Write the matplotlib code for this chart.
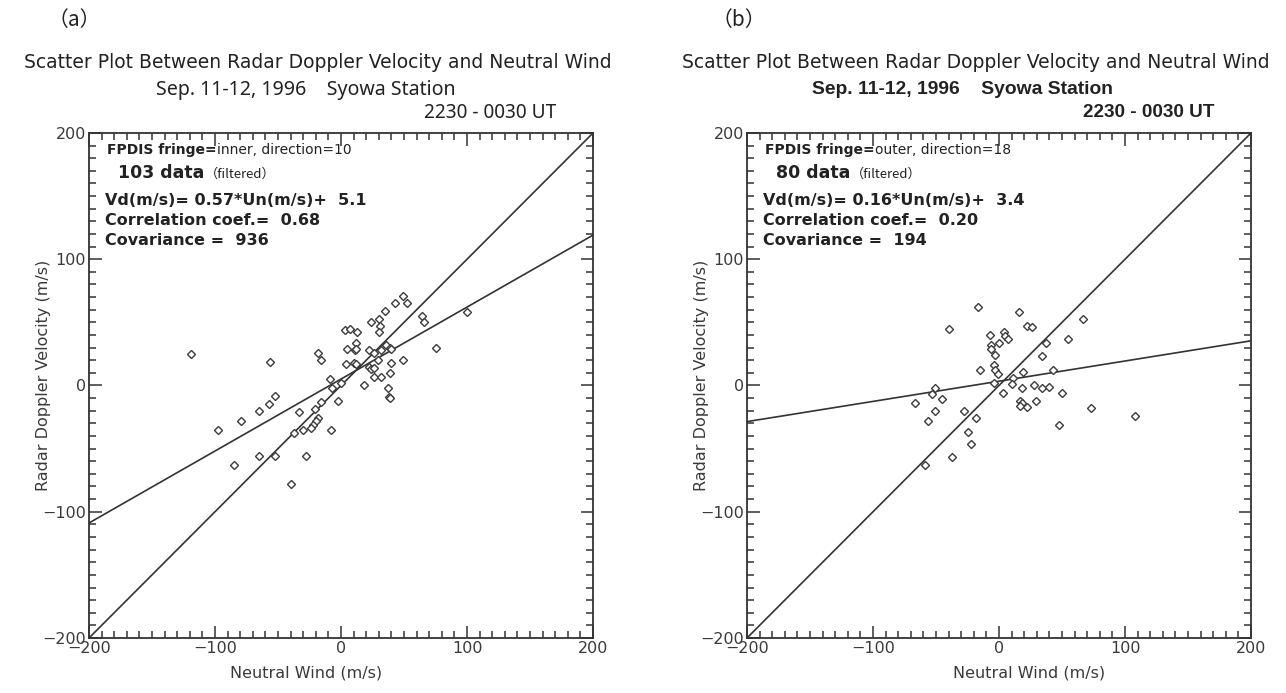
import numpy as np
import matplotlib.pyplot as plt
from matplotlib.ticker import MultipleLocator

# panel (a): inner fringe, direction=10
a_un = [-119, -56, -52, -57, -65, -79, -98, -33, -30, -37, -65, -52, -85, -28, -40,
        49, 43, 52, 35, 30, 24, 31, 30, 3, 7, 13, 12, 11, 12, 5, 22, 26, 32, 36, 39,
        40, 29, 40, 49, 4, 10, 12, 22, 24, 26, 26, 32, 39, 18, 37, 38, 39, -9, 0, -7,
        -16, -2, -21, -18, -20, -22, -24, -8, -18, -16, 64, 66, 75, 100]
a_vd = [25, 19, -8, -15, -20, -28, -35, -21, -35, -38, -56, -56, -63, -56, -78,
        71, 65, 65, 59, 53, 50, 47, 42, 44, 45, 42, 34, 28, 29, 29, 28, 26, 28, 32, 30,
        29, 20, 18, 20, 17, 18, 17, 15, 13, 14, 7, 7, 10, 0, -2, -9, -10, 5, 2, -2,
        -13, -12, -19, -26, -28, -31, -34, -35, 26, 20, 55, 50, 30, 58]
a_slope, a_icpt = 0.57, 5.1

# panel (b): outer fringe, direction=18
b_un = [-40, -51, -53, -45, -67, -51, -56, -59, -17, 16, 22, 26, 67, -7, 4, 5, 7, 0,
        -6, -6, -3, 37, 55, 34, -15, -4, -3, -1, 19, 43, -4, 11, 10, 18, 28, 34, 40,
        50, 3, 29, 17, 18, 17, 22, 73, -28, -18, -25, -22, 48, -37, 108]
b_vd = [45, -2, -7, -11, -14, -20, -28, -63, 62, 58, 47, 46, 53, 40, 42, 39, 37, 34,
        32, 29, 24, 34, 37, 23, 12, 16, 12, 9, 11, 12, 2, 6, 1, -2, 0, -2, -1,
        -6, -6, -12, -12, -14, -16, -17, -18, -20, -26, -37, -46, -31, -57, -24]
b_slope, b_icpt = 0.16, 3.4

W, H = 1286, 693
fig = plt.figure(figsize=(W / 100, H / 100), dpi=100)
col = '#333333'
txt = '#222222'


def fx(x):
    return x / W


def fy(y):
    return 1 - y / H


panels = [
    dict(left=89, tag='（a）', tagx=74, tcx=318, scx=306, bold=False,
         un=a_un, vd=a_vd, slope=a_slope, icpt=a_icpt,
         fringe='inner, direction=10', n='103', corr='0.68', cov='936', xlab=-0.07),
    dict(left=747, tag='（b）', tagx=739, tcx=976, scx=963, bold=True,
         un=b_un, vd=b_vd, slope=b_slope, icpt=b_icpt,
         fringe='outer, direction=18', n='80', corr='0.20', cov='194', xlab=0.06),
]

for p in panels:
    ax = fig.add_axes([fx(p['left']), fy(638), 504 / W, 505 / H])
    xx = np.array([-200, 200])
    ax.plot(xx, xx, color=col, lw=1.2)
    ax.plot(xx, p['slope'] * xx + p['icpt'], color=col, lw=1.2)
    ax.plot(p['un'], p['vd'], 'D', ms=4.2, mfc='white', mec='#3c3c3c', mew=1.0)
    ax.set_xlim(-200, 200)
    ax.set_ylim(-200, 200)
    for s in ax.spines.values():
        s.set_linewidth(1.3)
        s.set_color(col)
    ax.xaxis.set_major_locator(MultipleLocator(100))
    ax.yaxis.set_major_locator(MultipleLocator(100))
    ax.xaxis.set_minor_locator(MultipleLocator(10))
    ax.yaxis.set_minor_locator(MultipleLocator(10))
    ax.tick_params(which='both', direction='in', top=True, right=True, color=col,
                   width=1.1, labelsize=11.5, labelcolor='#3a3a3a', pad=2)
    ax.tick_params(which='major', length=9)
    ax.tick_params(which='minor', length=5)
    ax.set_xlabel('Neutral Wind (m/s)', fontsize=11.5, color='#3a3a3a')
    ax.xaxis.set_label_coords(0.5 + p['xlab'], -0.055)
    ax.set_ylabel('Radar Doppler Velocity (m/s)', fontsize=11.5, color='#3a3a3a')
    ax.yaxis.set_label_coords(-0.075, 0.52)

    t = ax.text(0.036, 0.966, 'FPDIS fringe=', transform=ax.transAxes, fontsize=10,
                fontweight='bold', family='Liberation Sans Narrow', va='center', color=txt)
    ax.annotate(p['fringe'], xy=(1, 0.5), xycoords=t, va='center', fontsize=10,
                family='DejaVu Sans', color=txt)
    t = ax.text(0.058, 0.921, p['n'] + ' data', transform=ax.transAxes, fontsize=12.5,
                fontweight='bold', family='DejaVu Sans', va='center', color=txt)
    ax.annotate('（filtered）', xy=(1, 0.45), xycoords=t, va='center', fontsize=9.5,
                family=['Noto Sans CJK JP', 'DejaVu Sans'], color=txt)
    lines = ['Vd(m/s)= %.2f*Un(m/s)+  %.1f' % (p['slope'], p['icpt']),
             'Correlation coef.=  ' + p['corr'],
             'Covariance =  ' + p['cov']]
    for i, s in enumerate(lines):
        ax.text(0.032, 0.867 - i * 0.04, s, transform=ax.transAxes, fontsize=11.5,
                fontweight='bold', family='DejaVu Sans', va='center', color=txt)

    if p['bold']:
        ax.text(0.927, 1.04, '2230 - 0030 UT', transform=ax.transAxes, ha='right',
                va='center', fontsize=13.7, fontweight='bold', family='Liberation Sans',
                color=txt)
        fig.text(fx(p['scx']), fy(90), 'Sep. 11-12, 1996    Syowa Station', ha='center',
                 va='center', fontsize=13.9, fontweight='bold', family='Liberation Sans',
                 color=txt)
    else:
        ax.text(0.927, 1.04, '2230 - 0030 UT', transform=ax.transAxes, ha='right',
                va='center', fontsize=13.7, family='Noto Sans', color=txt)
        fig.text(fx(p['scx']), fy(90), 'Sep. 11-12, 1996    Syowa Station', ha='center',
                 va='center', fontsize=14.1, family='Noto Sans', color=txt)

    fig.text(fx(p['tagx']), fy(20), p['tag'], ha='center', va='center', fontsize=15,
             family=['Noto Sans CJK JP', 'DejaVu Sans'], color=txt)
    fig.text(fx(p['tcx']), fy(63), 'Scatter Plot Between Radar Doppler Velocity and Neutral Wind',
             ha='center', va='center', fontsize=13.5, family='DejaVu Sans', color=txt)

fig.savefig('out.png', dpi=100)
